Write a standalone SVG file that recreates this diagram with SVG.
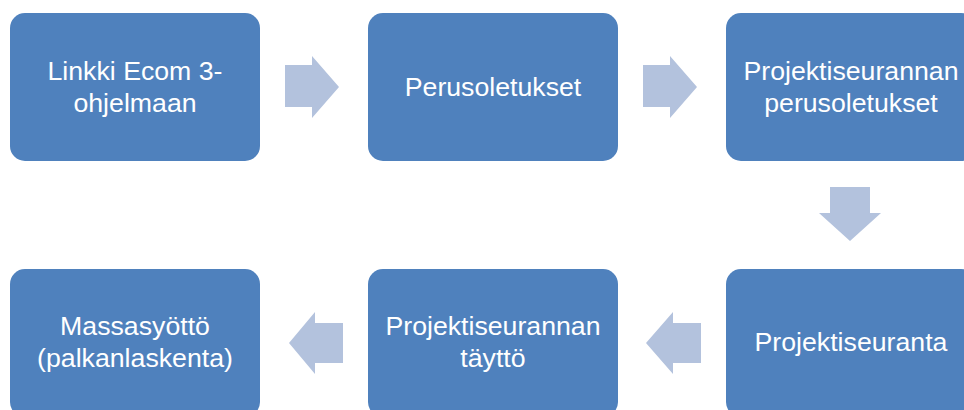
<svg xmlns="http://www.w3.org/2000/svg" width="964" height="410" viewBox="0 0 964 410">
<style>
.box{fill:#4F81BD;}
.arr{fill:#B3C2DD;}
text{font-family:"Liberation Sans",Arial,sans-serif;font-size:26.7px;fill:#FFFFFF;text-anchor:middle;}
</style>
<rect width="964" height="410" fill="#FFFFFF"/>
<g id="connectors">
<polygon class="arr" points="285,65 312,65 312,56 339,87 312,118 312,107 285,107"/>
<polygon class="arr" points="643,65 670,65 670,56 697,87 670,118 670,107 643,107"/>
<polygon class="arr" points="830,187 870,187 870,213 881,213 850,241 819,213 830,213"/>
<polygon class="arr" points="701,323 673,323 673,312 646,343 673,374 673,363 701,363"/>
<polygon class="arr" points="343,323 315,323 315,312 289,343 315,374 315,363 343,363"/>
</g>
<g id="node1">
<rect class="box" x="10" y="13" width="250" height="148" rx="15"/>
<text x="135" y="80">Linkki Ecom 3-</text>
<text x="135" y="112">ohjelmaan</text>
</g>
<g id="node2">
<rect class="box" x="368" y="13" width="250" height="148" rx="15"/>
<text x="493" y="96">Perusoletukset</text>
</g>
<g id="node3">
<rect class="box" x="726" y="13" width="250" height="148" rx="15"/>
<text x="851" y="80">Projektiseurannan</text>
<text x="851" y="112">perusoletukset</text>
</g>
<g id="node4">
<rect class="box" x="726" y="269" width="250" height="148" rx="15"/>
<text x="851" y="351">Projektiseuranta</text>
</g>
<g id="node5">
<rect class="box" x="368" y="269" width="250" height="148" rx="15"/>
<text x="493" y="335">Projektiseurannan</text>
<text x="493" y="367">täyttö</text>
</g>
<g id="node6">
<rect class="box" x="10" y="269" width="250" height="148" rx="15"/>
<text x="135" y="335">Massasyöttö</text>
<text x="135" y="367">(palkanlaskenta)</text>
</g>
</svg>
